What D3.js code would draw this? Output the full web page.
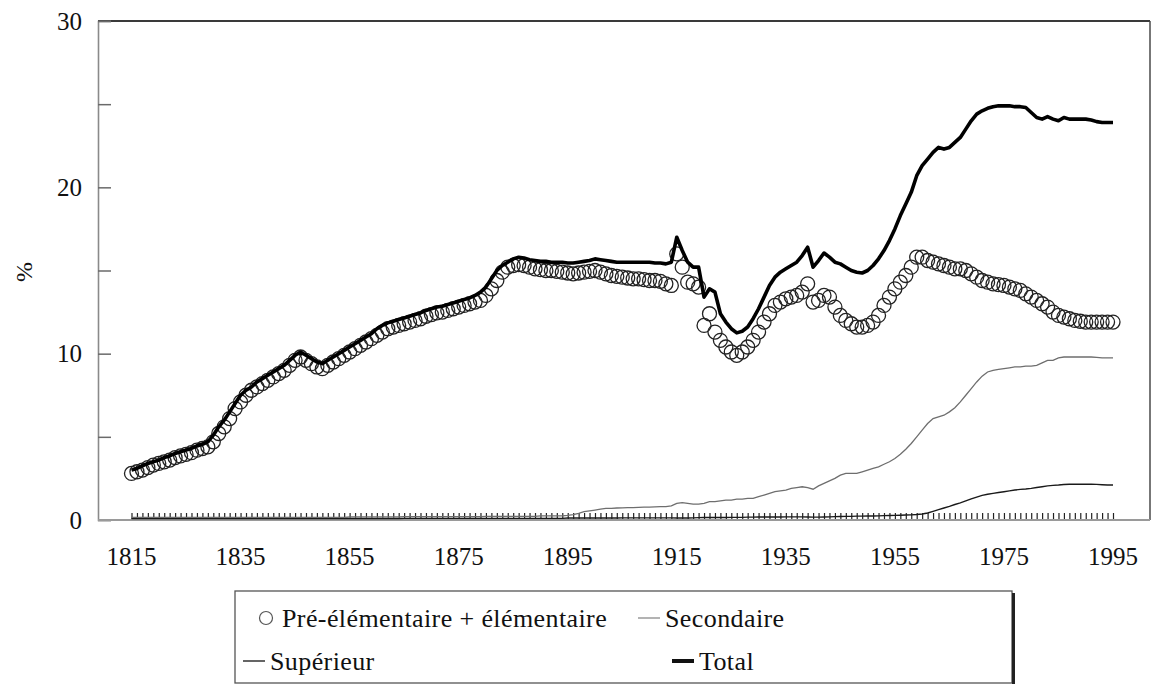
<!DOCTYPE html>
<html>
<head>
<meta charset="utf-8">
<script src="https://cdn.jsdelivr.net/npm/d3@7"></script>
<style>
  html, body { margin: 0; padding: 0; background: #fff; }
  svg { display: block; }
  text { font-family: "Liberation Serif", "Times New Roman", serif; fill: #111; }
</style>
</head>
<body>
<svg id="chart" width="1153" height="686"></svg>
<script>
// ---- DATA ----
const firstYear = 1815, lastYear = 1995;
const years = d3.range(firstYear, lastYear + 1);
const xTickLabels = [1815, 1835, 1855, 1875, 1895, 1915, 1935, 1955, 1975, 1995];
const yTickLabels = [0, 10, 20, 30];
const seriesNames = ["Pré-élémentaire + élémentaire", "Secondaire", "Supérieur", "Total"];

// Pré-élémentaire + élémentaire (circles), 1815..1995
const primary = [
  2.8, 2.9, 3.0, 3.15, 3.3, 3.4, 3.5, 3.6, 3.75, 3.85,           // 1815-1824
  3.95, 4.05, 4.2, 4.3, 4.4, 4.7, 5.2, 5.6, 6.1, 6.7,           // 1825-1834
  7.1, 7.5, 7.8, 8.0, 8.2, 8.4, 8.6, 8.8, 9.0, 9.3,             // 1835-1844
  9.6, 9.8, 9.6, 9.4, 9.2, 9.1, 9.3, 9.5, 9.7, 9.9,             // 1845-1854
  10.1, 10.3, 10.5, 10.7, 10.9, 11.1, 11.3, 11.5, 11.6, 11.7,   // 1855-1864
  11.8, 11.9, 12.0, 12.1, 12.25, 12.35, 12.45, 12.5, 12.6, 12.7, // 1865-1874
  12.8, 12.9, 13.0, 13.1, 13.2, 13.5, 13.9, 14.4, 14.9, 15.2,   // 1875-1884
  15.3, 15.35, 15.3, 15.2, 15.1, 15.05, 15.0, 15.0, 14.95, 14.9, // 1885-1894
  14.85, 14.8, 14.85, 14.9, 14.95, 15.0, 14.9, 14.8, 14.7, 14.65, // 1895-1904
  14.6, 14.55, 14.5, 14.5, 14.45, 14.4, 14.4, 14.35, 14.2, 14.1, // 1905-1914
  16.0, 15.2, 14.3, 14.2, 14.0, 11.7, 12.4, 11.3, 10.8, 10.4,   // 1915-1924
  10.1, 9.9, 10.1, 10.4, 10.8, 11.3, 11.9, 12.4, 12.9, 13.1,    // 1925-1934
  13.3, 13.4, 13.5, 13.7, 14.2, 13.1, 13.2, 13.5, 13.4, 12.8,   // 1935-1944
  12.3, 12.0, 11.8, 11.6, 11.6, 11.7, 11.9, 12.3, 12.9, 13.4,   // 1945-1954
  13.9, 14.3, 14.7, 15.2, 15.8, 15.8, 15.6, 15.5, 15.4, 15.3,   // 1955-1964
  15.2, 15.1, 15.1, 15.0, 14.8, 14.6, 14.4, 14.3, 14.2, 14.15,  // 1965-1974
  14.1, 14.0, 13.9, 13.8, 13.6, 13.4, 13.2, 13.0, 12.8, 12.5,   // 1975-1984
  12.3, 12.2, 12.1, 12.0, 11.95, 11.9, 11.9, 11.9, 11.9, 11.9,  // 1985-1994
  11.9                                                          // 1995
];

// Secondaire (thin grey line)
const secondary = [
  0.15, 0.15, 0.15, 0.15, 0.15, 0.15, 0.15, 0.15, 0.15, 0.15,   // 1815-1824
  0.15, 0.15, 0.15, 0.15, 0.15, 0.15, 0.15, 0.15, 0.15, 0.15,   // 1825-1834
  0.15, 0.15, 0.15, 0.15, 0.15, 0.15, 0.15, 0.15, 0.15, 0.15,   // 1835-1844
  0.15, 0.15, 0.15, 0.15, 0.15, 0.15, 0.15, 0.15, 0.15, 0.15,   // 1845-1854
  0.18, 0.18, 0.18, 0.18, 0.18, 0.18, 0.18, 0.18, 0.18, 0.18,   // 1855-1864
  0.2, 0.2, 0.2, 0.2, 0.2, 0.2, 0.2, 0.2, 0.2, 0.2,             // 1865-1874
  0.2, 0.2, 0.2, 0.2, 0.2, 0.22, 0.22, 0.22, 0.22, 0.22,        // 1875-1884
  0.22, 0.22, 0.22, 0.22, 0.22, 0.25, 0.25, 0.25, 0.25, 0.25,   // 1885-1894
  0.28, 0.32, 0.4, 0.5, 0.55, 0.6, 0.65, 0.7, 0.7, 0.72,        // 1895-1904
  0.73, 0.74, 0.75, 0.76, 0.77, 0.78, 0.79, 0.8, 0.8, 0.85,     // 1905-1914
  1.0, 1.05, 1.0, 0.95, 0.95, 1.0, 1.1, 1.1, 1.15, 1.2,         // 1915-1924
  1.2, 1.25, 1.25, 1.3, 1.3, 1.4, 1.5, 1.6, 1.7, 1.75,          // 1925-1934
  1.8, 1.9, 1.95, 2.0, 1.95, 1.85, 2.05, 2.2, 2.35, 2.5,        // 1935-1944
  2.7, 2.8, 2.8, 2.8, 2.9, 3.0, 3.1, 3.2, 3.35, 3.5,            // 1945-1954
  3.7, 3.95, 4.25, 4.6, 5.0, 5.4, 5.8, 6.1, 6.2, 6.3,           // 1955-1964
  6.5, 6.75, 7.1, 7.5, 7.9, 8.3, 8.65, 8.9, 9.0, 9.05,          // 1965-1974
  9.1, 9.15, 9.2, 9.2, 9.25, 9.25, 9.3, 9.45, 9.6, 9.6,         // 1975-1984
  9.75, 9.8, 9.8, 9.8, 9.8, 9.8, 9.8, 9.78, 9.75, 9.75,         // 1985-1994
  9.75                                                          // 1995
];

// Supérieur (thin black line)
const higher = [
  0.08, 0.08, 0.08, 0.08, 0.08, 0.08, 0.08, 0.08, 0.08, 0.08,   // 1815-1824
  0.08, 0.08, 0.08, 0.08, 0.08, 0.08, 0.08, 0.08, 0.08, 0.08,   // 1825-1834
  0.08, 0.08, 0.08, 0.08, 0.08, 0.08, 0.08, 0.08, 0.08, 0.08,   // 1835-1844
  0.08, 0.08, 0.08, 0.08, 0.08, 0.08, 0.08, 0.08, 0.08, 0.08,   // 1845-1854
  0.08, 0.08, 0.08, 0.08, 0.08, 0.08, 0.08, 0.08, 0.08, 0.08,   // 1855-1864
  0.1, 0.1, 0.1, 0.1, 0.1, 0.1, 0.1, 0.1, 0.1, 0.1,             // 1865-1874
  0.1, 0.1, 0.1, 0.1, 0.1, 0.1, 0.1, 0.1, 0.1, 0.1,             // 1875-1884
  0.1, 0.1, 0.1, 0.1, 0.1, 0.1, 0.1, 0.1, 0.1, 0.1,             // 1885-1894
  0.12, 0.12, 0.12, 0.12, 0.12, 0.12, 0.12, 0.12, 0.12, 0.12,   // 1895-1904
  0.13, 0.13, 0.13, 0.13, 0.13, 0.13, 0.13, 0.13, 0.13, 0.13,   // 1905-1914
  0.12, 0.12, 0.12, 0.13, 0.14, 0.15, 0.15, 0.15, 0.15, 0.15,   // 1915-1924
  0.16, 0.16, 0.16, 0.17, 0.17, 0.18, 0.18, 0.18, 0.18, 0.18,   // 1925-1934
  0.19, 0.19, 0.19, 0.19, 0.18, 0.17, 0.17, 0.18, 0.19, 0.2,    // 1935-1944
  0.21, 0.22, 0.22, 0.23, 0.23, 0.24, 0.24, 0.25, 0.26, 0.27,   // 1945-1954
  0.28, 0.29, 0.3, 0.31, 0.33, 0.36, 0.42, 0.52, 0.62, 0.72,    // 1955-1964
  0.82, 0.93, 1.03, 1.15, 1.27, 1.38, 1.48, 1.55, 1.6, 1.65,    // 1965-1974
  1.7, 1.75, 1.8, 1.84, 1.86, 1.9, 1.95, 2.0, 2.05, 2.08,       // 1975-1984
  2.1, 2.13, 2.15, 2.15, 2.15, 2.15, 2.15, 2.14, 2.12, 2.1,     // 1985-1994
  2.1                                                           // 1995
];

// Total (thick black line)
const total = [
  3.0, 3.1, 3.25, 3.4, 3.5, 3.6, 3.75, 3.85, 4.0, 4.1,          // 1815-1824
  4.2, 4.3, 4.45, 4.55, 4.7, 5.1, 5.6, 6.0, 6.5, 7.0,           // 1825-1834
  7.5, 7.8, 8.0, 8.3, 8.5, 8.7, 8.9, 9.1, 9.3, 9.6,             // 1835-1844
  9.9, 10.1, 9.9, 9.7, 9.5, 9.4, 9.6, 9.8, 10.0, 10.2,          // 1845-1854
  10.4, 10.6, 10.8, 11.0, 11.2, 11.5, 11.7, 11.85, 11.95, 12.05, // 1855-1864
  12.15, 12.25, 12.35, 12.45, 12.6, 12.7, 12.8, 12.85, 12.95, 13.05, // 1865-1874
  13.15, 13.25, 13.35, 13.5, 13.7, 14.0, 14.5, 15.0, 15.3, 15.5, // 1875-1884
  15.7, 15.8, 15.75, 15.65, 15.6, 15.55, 15.55, 15.5, 15.5, 15.5, // 1885-1894
  15.45, 15.45, 15.5, 15.55, 15.6, 15.7, 15.65, 15.6, 15.55, 15.5, // 1895-1904
  15.5, 15.5, 15.5, 15.5, 15.5, 15.5, 15.45, 15.45, 15.4, 15.5, // 1905-1914
  17.0, 16.2, 15.5, 15.2, 15.2, 13.4, 13.9, 13.7, 12.4, 11.9,   // 1915-1924
  11.5, 11.25, 11.35, 11.6, 12.1, 12.7, 13.4, 14.1, 14.6, 14.9, // 1925-1934
  15.1, 15.3, 15.5, 15.9, 16.4, 15.2, 15.6, 16.05, 15.8, 15.5,  // 1935-1944
  15.4, 15.2, 15.0, 14.9, 14.85, 15.0, 15.3, 15.7, 16.2, 16.8,  // 1945-1954
  17.5, 18.3, 19.0, 19.7, 20.7, 21.3, 21.7, 22.1, 22.4, 22.3,   // 1955-1964
  22.4, 22.7, 23.0, 23.5, 24.0, 24.4, 24.6, 24.75, 24.85, 24.9, // 1965-1974
  24.9, 24.9, 24.85, 24.85, 24.8, 24.5, 24.2, 24.1, 24.25, 24.1, // 1975-1984
  24.0, 24.2, 24.1, 24.1, 24.1, 24.1, 24.05, 23.95, 23.9, 23.9, // 1985-1994
  23.9                                                          // 1995
];

// ---- LAYOUT ----
const svg = d3.select("#chart");
const plot = { left: 98, right: 1150, top: 21, bottom: 520 };

const x = d3.scaleLinear().domain([firstYear, lastYear]).range([131.5, 1113]);
const y = d3.scaleLinear().domain([0, 30]).range([plot.bottom, plot.top]);

// frame: top & right borders
svg.append("line").attr("x1", plot.left).attr("x2", plot.right)
  .attr("y1", plot.top).attr("y2", plot.top)
  .attr("stroke", "#3a3a3a").attr("stroke-width", 2);
svg.append("line").attr("x1", plot.right).attr("x2", plot.right)
  .attr("y1", plot.top).attr("y2", plot.bottom)
  .attr("stroke", "#4a4a4a").attr("stroke-width", 1.5);

// y axis (ticks pointing inward, every 5)
const yAxis = d3.axisRight(y).tickValues(d3.range(0, 31, 5)).tickSize(13).tickFormat("");
const gy = svg.append("g").attr("transform", `translate(${plot.left},0)`).call(yAxis);
gy.select(".domain").attr("stroke", "#8a8a8a").attr("stroke-width", 1.6);
gy.selectAll(".tick line").attr("stroke", "#6a6a6a").attr("stroke-width", 1.5);

svg.append("g").selectAll("text").data(yTickLabels).join("text")
  .attr("x", 82).attr("y", d => y(d))
  .attr("text-anchor", "end").attr("dominant-baseline", "central")
  .attr("font-size", 25).text(d => d);

// y axis title
svg.append("text").attr("transform", "translate(24,272) rotate(-90)")
  .attr("text-anchor", "middle").attr("dominant-baseline", "central")
  .attr("font-size", 24).text("%");

// x axis: baseline + one small inward tick per year
const xAxis = d3.axisTop(x).tickValues(years).tickSize(7).tickFormat("");
const gx = svg.append("g").attr("transform", `translate(0,${plot.bottom})`).call(xAxis);
gx.select(".domain").remove();
gx.selectAll(".tick line").attr("stroke", "#222").attr("stroke-width", 1.2);
svg.append("line").attr("x1", plot.left).attr("x2", plot.right)
  .attr("y1", plot.bottom).attr("y2", plot.bottom)
  .attr("stroke", "#9a9a9a").attr("stroke-width", 2);

svg.append("g").selectAll("text").data(xTickLabels).join("text")
  .attr("x", d => x(d)).attr("y", 565)
  .attr("text-anchor", "middle")
  .attr("font-size", 25).text(d => d);

// ---- SERIES ----
const rows = years.map((yr, i) => ({ yr, p: primary[i], s: secondary[i], h: higher[i], t: total[i] }));
const line = key => d3.line().x(d => x(d.yr)).y(d => y(d[key]));

svg.append("path").datum(rows).attr("d", line("s"))
  .attr("fill", "none").attr("stroke", "#6e6e6e").attr("stroke-width", 1.3);
svg.append("path").datum(rows).attr("d", line("h"))
  .attr("fill", "none").attr("stroke", "#1a1a1a").attr("stroke-width", 1.4);

svg.append("g").selectAll("circle").data(rows).join("circle")
  .attr("cx", d => x(d.yr)).attr("cy", d => y(d.p)).attr("r", 7)
  .attr("fill", "none").attr("stroke", "#222").attr("stroke-width", 1.3);

svg.append("path").datum(rows).attr("d", line("t"))
  .attr("fill", "none").attr("stroke", "#000").attr("stroke-width", 3.6)
  .attr("stroke-linejoin", "round");

// ---- LEGEND ----
const lg = svg.append("g");
lg.append("rect").attr("x", 235).attr("y", 591).attr("width", 777).attr("height", 92)
  .attr("fill", "none").attr("stroke", "#555").attr("stroke-width", 1.3);
lg.append("line").attr("x1", 1013.5).attr("x2", 1013.5).attr("y1", 593).attr("y2", 684)
  .attr("stroke", "#222").attr("stroke-width", 3);

const legendItems = [
  { name: seriesNames[0], kind: "circle", sx: 266, sy: 618 },
  { name: seriesNames[1], kind: "grey",   sx: 649, sy: 618 },
  { name: seriesNames[2], kind: "thin",   sx: 254, sy: 661 },
  { name: seriesNames[3], kind: "thick",  sx: 683, sy: 661 }
];
legendItems.forEach(it => {
  if (it.kind === "circle") {
    lg.append("circle").attr("cx", it.sx).attr("cy", it.sy).attr("r", 6.5)
      .attr("fill", "none").attr("stroke", "#555").attr("stroke-width", 1.2);
  } else {
    const w = it.kind === "thick" ? 4 : 1.3;
    const c = it.kind === "grey" ? "#8a8a8a" : "#111";
    lg.append("line").attr("x1", it.sx - 11).attr("x2", it.sx + 11)
      .attr("y1", it.sy).attr("y2", it.sy).attr("stroke", c).attr("stroke-width", w);
  }
  lg.append("text").attr("x", it.sx + 16).attr("y", it.sy)
    .attr("dominant-baseline", "central").attr("font-size", 26)
    .attr("letter-spacing", 0.4).text(it.name);
});
</script>
</body>
</html>
